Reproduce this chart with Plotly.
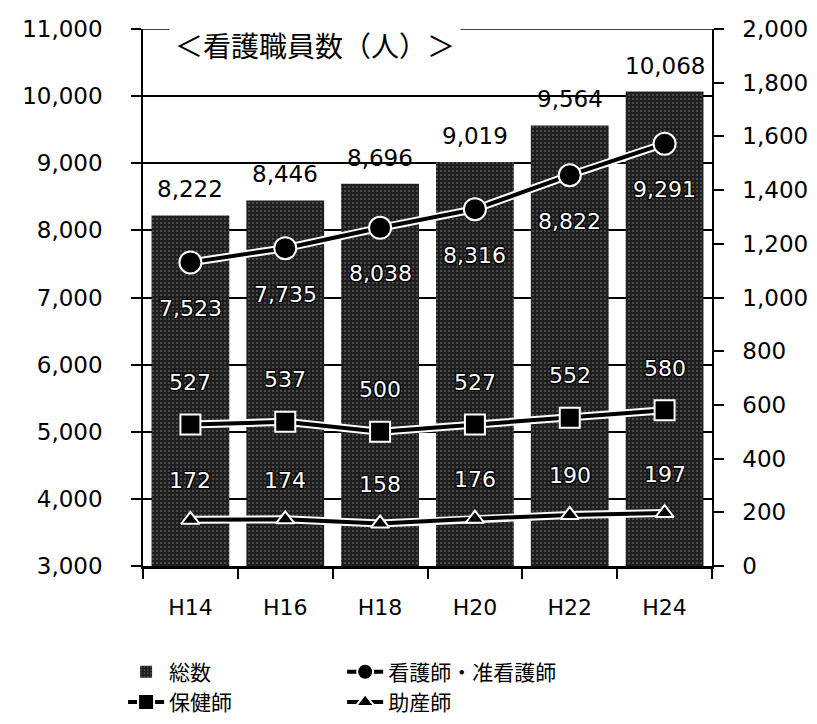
import plotly.graph_objects as go

# Fiscal years (Heisei)
years = ["H14", "H16", "H18", "H20", "H22", "H24"]

# Nursing staff counts (persons)
total = [8222, 8446, 8696, 9019, 9564, 10068]          # 総数 (left axis)
nurses = [7523, 7735, 8038, 8316, 8822, 9291]          # 看護師・准看護師 (left axis)
public_health = [527, 537, 500, 527, 552, 580]         # 保健師 (right axis)
midwives = [172, 174, 158, 176, 190, 197]              # 助産師 (right axis)

NUM_FONT = "DejaVu Sans, sans-serif"
JP_FONT = "Noto Sans CJK JP, sans-serif"
OUTLINE = ("-1px -1px 0 #000, 1px -1px 0 #000, -1px 1px 0 #000, 1px 1px 0 #000, "
           "0 0 3px #000")

fig = go.Figure()

fig.add_trace(go.Bar(
    x=years, y=total, name="総数", legend="legend",
    marker=dict(color="#2b2b2b", line=dict(width=0),
                pattern=dict(shape=".", fgcolor="#8a8a8a", bgcolor="#1e1e1e",
                             size=4, solidity=0.22)),
    width=0.82, yaxis="y",
))


def add_line(vals, name, symbol, size, axis, legend):
    # white halo under the black line
    fig.add_trace(go.Scatter(
        x=years, y=vals, mode="lines", yaxis=axis, showlegend=False,
        hoverinfo="skip", line=dict(color="white", width=8),
    ))
    fig.add_trace(go.Scatter(
        x=years, y=vals, mode="lines+markers", name=name, yaxis=axis, legend=legend,
        line=dict(color="black", width=4),
        marker=dict(symbol=symbol, size=size, color="black",
                    line=dict(color="white", width=2)),
    ))


add_line(nurses, "看護師・准看護師", "circle", 22, "y", "legend2")
add_line(public_health, "保健師", "square", 20, "y2", "legend")
add_line(midwives, "助産師", "triangle-up", 16, "y2", "legend2")

annotations = []
for x, v in zip(years, total):
    annotations.append(dict(x=x, y=v, yref="y", text=f"{v:,}", showarrow=False,
                            yshift=26, font=dict(family=NUM_FONT, size=23, color="black")))
for x, v in zip(years, nurses):
    annotations.append(dict(x=x, y=v, yref="y", text=f"{v:,}", showarrow=False,
                            yshift=-46,
                            font=dict(family=NUM_FONT, size=22, color="white", shadow=OUTLINE)))
for x, v in zip(years, public_health):
    annotations.append(dict(x=x, y=v, yref="y2", text=f"{v:,}", showarrow=False,
                            yshift=42,
                            font=dict(family=NUM_FONT, size=22, color="white", shadow=OUTLINE)))
for x, v in zip(years, midwives):
    annotations.append(dict(x=x, y=v, yref="y2", text=f"{v:,}", showarrow=False,
                            yshift=39,
                            font=dict(family=NUM_FONT, size=22, color="white", shadow=OUTLINE)))

annotations.append(dict(
    x=0.045, y=0.970, xref="paper", yref="paper", xanchor="left", yanchor="middle",
    text="＜看護職員数（人）＞", showarrow=False, bgcolor="white", borderpad=5,
    font=dict(family=JP_FONT, size=28, color="black"),
))

legend_common = dict(orientation="v", yref="container", yanchor="top", xanchor="left",
                     traceorder="normal", itemwidth=36, tracegroupgap=0,
                     bgcolor="rgba(0,0,0,0)",
                     font=dict(family=JP_FONT, size=21, color="black"))

fig.update_layout(
    width=817, height=724,
    margin=dict(l=143, r=105, t=29, b=158, autoexpand=False),
    paper_bgcolor="white", plot_bgcolor="white",
    showlegend=True,
    legend=dict(x=-0.035, y=0.1, **legend_common),
    legend2=dict(x=0.35, y=0.1, **legend_common),
    shapes=[dict(type="line", xref="paper", yref="y", x0=0, x1=1, y0=11000, y1=11000,
                 line=dict(color="black", width=1.5), layer="below")],
    xaxis=dict(
        showline=True, linecolor="black", linewidth=3,
        ticks="outside", tickson="boundaries", ticklen=10, tickcolor="black", tickwidth=1.5,
        ticklabelstandoff=20,
        tickfont=dict(family=NUM_FONT, size=22, color="black"),
        showgrid=False,
    ),
    yaxis=dict(
        range=[3000, 11000], dtick=1000, tickformat=",",
        showline=True, linecolor="black", linewidth=1.5,
        ticks="outside", ticklen=10, tickcolor="black", tickwidth=1.5,
        ticklabelstandoff=24,
        showgrid=True, gridcolor="black", gridwidth=1.5,
        tickfont=dict(family=NUM_FONT, size=23, color="black"),
        zeroline=False,
    ),
    yaxis2=dict(
        range=[0, 2000], dtick=200, tickformat=",", overlaying="y", side="right",
        showline=True, linecolor="black", linewidth=1.5,
        ticks="outside", ticklen=10, tickcolor="black", tickwidth=1.5,
        ticklabelstandoff=14,
        showgrid=False, zeroline=False,
        tickfont=dict(family=NUM_FONT, size=23, color="black"),
    ),
    annotations=annotations,
)

fig.write_html("out.html")
